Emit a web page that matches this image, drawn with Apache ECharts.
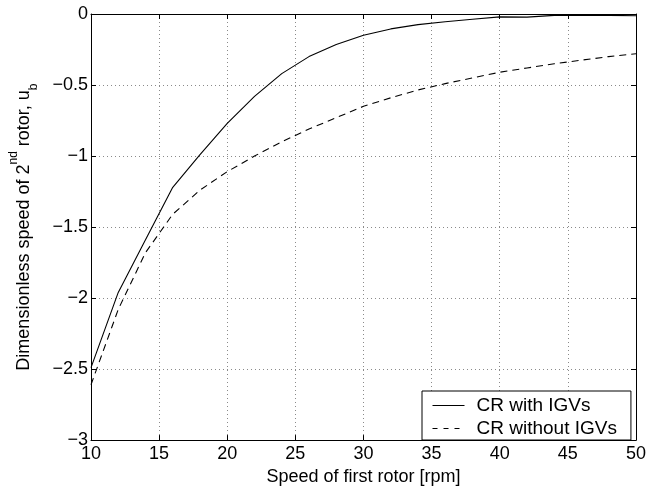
<!DOCTYPE html>
<html>
<head>
<meta charset="utf-8">
<script src="https://cdn.jsdelivr.net/npm/echarts@6/dist/echarts.min.js"></script>
<style>html,body{margin:0;padding:0;background:#fff}#c{width:649px;height:491px}</style>
</head>
<body>
<div id="c"></div>
<script>
const speed = [10,12,14,16,18,20,22,24,26,28,30,32,34,36,38,40,42,44,46,48,50];
const withIGV = [-2.49,-1.96,-1.59,-1.22,-0.99,-0.77,-0.58,-0.42,-0.30,-0.215,-0.15,-0.105,-0.075,-0.055,-0.037,-0.02,-0.022,-0.01,-0.01,-0.01,-0.012];
const withoutIGV = [-2.61,-2.08,-1.68,-1.41,-1.24,-1.11,-1.0,-0.90,-0.81,-0.73,-0.65,-0.59,-0.535,-0.49,-0.45,-0.41,-0.38,-0.35,-0.325,-0.30,-0.28];
const seriesNames = ['CR with IGVs','CR without IGVs'];
const xTitle = 'Speed of first rotor [rpm]';

const FONT = "'Liberation Sans', Arial, Helvetica, sans-serif";
const gridLine = {show:true, lineStyle:{color:'#8a8a8a', type:[1,3], width:1}};
const axLine = {show:true, onZero:false, lineStyle:{color:'#000', width:1}};
const tick = {show:true, inside:true, length:5, lineStyle:{color:'#000'}};
const fmtMinus = v => String(v).replace('-', '\u2212');

const chart = echarts.init(document.getElementById('c'), null, {renderer:'canvas'});
chart.setOption({
  animation:false,
  backgroundColor:'#fff',
  textStyle:{fontFamily:FONT},
  grid:{left:89, right:12, top:14, bottom:46, containLabel:false},
  xAxis:[
    {type:'value', min:10, max:50, interval:5, position:'bottom',
     axisLine:axLine, axisTick:tick,
     axisLabel:{color:'#000', fontSize:18, fontFamily:FONT, margin:5},
     splitLine:gridLine,
     name:xTitle, nameLocation:'middle', nameGap:22,
     nameTextStyle:{color:'#000', fontSize:18, fontFamily:FONT}},
    {type:'value', min:10, max:50, interval:5, position:'top',
     axisLine:axLine, axisTick:tick, axisLabel:{show:false}, splitLine:{show:false}}
  ],
  yAxis:[
    {type:'value', min:-3, max:0, interval:0.5, position:'left',
     axisLine:axLine, axisTick:tick,
     axisLabel:{color:'#000', fontSize:18, fontFamily:FONT, margin:3, formatter:fmtMinus},
     splitLine:gridLine,
     name:'Dimensionless speed of 2{sup|nd} rotor, u{sub|b}',
     nameLocation:'middle', nameRotate:90, nameGap:51,
     nameTextStyle:{color:'#000', fontSize:18, fontFamily:FONT, lineHeight:32,
       rich:{
         sup:{fontSize:12, fontFamily:FONT, color:'#000', lineHeight:12, verticalAlign:'top'},
         sub:{fontSize:12, fontFamily:FONT, color:'#000', lineHeight:16, verticalAlign:'bottom'}
       }}},
    {type:'value', min:-3, max:0, interval:0.5, position:'right',
     axisLine:axLine, axisTick:tick, axisLabel:{show:false}, splitLine:{show:false}}
  ],
  legend:{
    orient:'vertical', left:422, top:391,
    backgroundColor:'#fff', borderColor:'#000', borderWidth:1, borderRadius:0,
    padding:[5,14,2,10],
    itemWidth:32, itemHeight:12, itemGap:4,
    itemStyle:{opacity:0},
    textStyle:{color:'#000', fontSize:19, fontFamily:FONT, lineHeight:19, padding:[0,0,0,7]},
    data:[
      {name:seriesNames[0], lineStyle:{width:1, type:'solid', color:'#000'}},
      {name:seriesNames[1], lineStyle:{width:1, type:[5,6], color:'#000'}}
    ]
  },
  series:[
    {name:seriesNames[0], type:'line', data:speed.map((x,i)=>[x, withIGV[i]]),
     symbol:'none', showSymbol:false, lineStyle:{color:'#000', width:1.1, type:'solid'}, itemStyle:{color:'#000'}},
    {name:seriesNames[1], type:'line', data:speed.map((x,i)=>[x, withoutIGV[i]]),
     symbol:'none', showSymbol:false, lineStyle:{color:'#000', width:1.1, type:[7,5]}, itemStyle:{color:'#000'}}
  ]
});
</script>
</body>
</html>
